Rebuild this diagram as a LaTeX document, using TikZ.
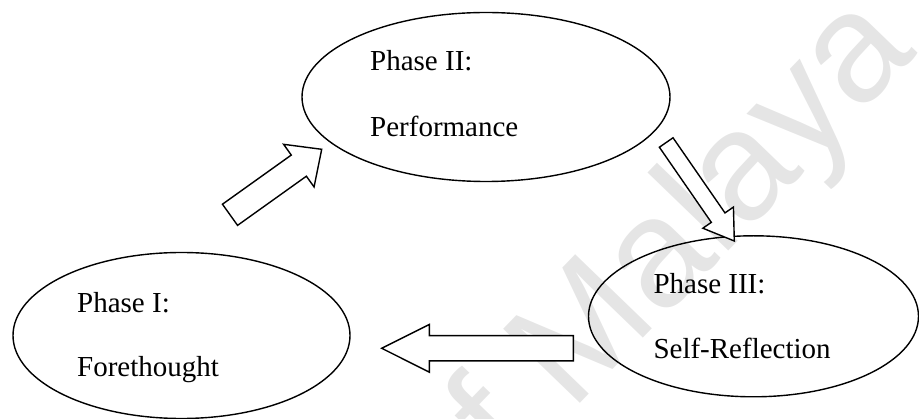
\documentclass[tikz,border=0pt]{standalone}
\usepackage{fontspec}
\setmainfont{Liberation Serif}
\newfontfamily\wmfont{Liberation Sans}
\usetikzlibrary{shapes.geometric,calc}

\tikzset{
  phase/.style={draw, ellipse, line width=1.4pt, inner sep=0pt},
  phasetext/.style={anchor=base west, inner sep=0pt, font=\fontsize{29}{34}\selectfont},
  blockarrow/.style={draw, line width=1.4pt, line join=miter, fill=white},
  watermark/.style={text=black!10, font=\wmfont\fontsize{155}{155}\selectfont,
    rotate=46, anchor=base west, inner sep=0pt}
}

% hollow block arrow: tail centre, tip, shaft half-width, head half-width, head length
\newcommand{\flowarrow}[5]{%
  \coordinate (hb) at ($(#2)!#5!(#1)$);
  \draw[blockarrow] ($(#1)!#3!90:(#2)$) -- ($(hb)!#3!90:(#2)$) -- ($(hb)!#4!90:(#2)$)
    -- (#2) -- ($(hb)!#4!-90:(#2)$) -- ($(hb)!#3!-90:(#2)$) -- ($(#1)!#3!-90:(#2)$) -- cycle;
}

\begin{document}
\begin{tikzpicture}[x=1pt,y=-1pt]
\useasboundingbox (0,0) rectangle (919,419);

% background watermark
\node[watermark] (wm) at (452,537) {of Malaya};

% the three phases
\node[phase, minimum width=368pt, minimum height=169pt] (perf) at (486,97) {};
\node[phase, minimum width=337pt, minimum height=166pt] (fore) at (181.5,335.5) {};
\node[phase, minimum width=330pt, minimum height=161pt] (refl) at (753.5,316.3) {};

\node[phasetext] (perf1) at (370,71) {Phase II:};
\node[phasetext] (perf2) at (370,136.7) {Performance};
\node[phasetext] (fore1) at (77,312.5) {Phase I:};
\node[phasetext] (fore2) at (77,377) {Forethought};
\node[phasetext] (refl1) at (653.3,293.3) {Phase III:};
\node[phasetext] (refl2) at (653.3,358.3) {Self-Reflection};

% cycle arrows
\coordinate (a1tail) at (230,214.8);
\coordinate (a1tip) at (321.7,149.3);
\coordinate (a2tail) at (666.2,142.5);
\coordinate (a2tip) at (734.3,241);
\coordinate (a3tail) at (573.3,348.3);
\coordinate (a3tip) at (381.7,348.3);

\flowarrow{a1tail}{a1tip}{13pt}{26.2pt}{28.1pt}
\flowarrow{a2tail}{a2tip}{8.3pt}{18.6pt}{28.4pt}
\flowarrow{a3tail}{a3tip}{12.65pt}{23.85pt}{47.6pt}
\end{tikzpicture}
\end{document}
